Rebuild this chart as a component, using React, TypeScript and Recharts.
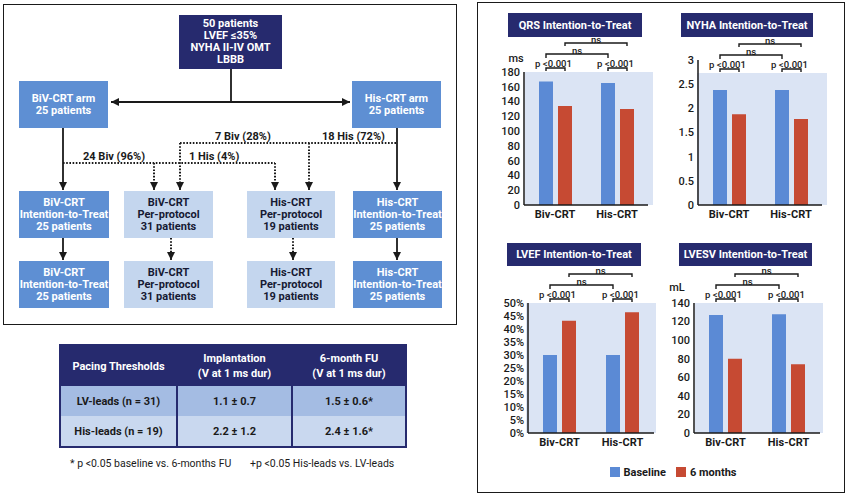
import { BarChart, Bar, XAxis, YAxis, Legend } from 'recharts'

const groups = ['Biv-CRT', 'His-CRT']

const qrsBaseline = [167, 165]
const qrsSixMonths = [134, 130]
const qrsTicks = [0, 20, 40, 60, 80, 100, 120, 140, 160, 180]

const nyhaBaseline = [2.38, 2.38]
const nyhaSixMonths = [1.88, 1.78]
const nyhaTicks = [0, 0.5, 1, 1.5, 2, 2.5, 3]

const lvefBaseline = [30, 30]
const lvefSixMonths = [43.2, 46.4]
const lvefTicks = [0, 5, 10, 15, 20, 25, 30, 35, 40, 45, 50]

const lvesvBaseline = [127, 128]
const lvesvSixMonths = [80, 74]
const lvesvTicks = [0, 20, 40, 60, 80, 100, 120, 140]

const tableHeader = ['Pacing Thresholds', 'Implantation\n(V at 1 ms dur)', '6-month FU\n(V at 1 ms dur)']
const tableLeads = ['LV-leads (n = 31)', 'His-leads (n = 19)']
const tableImplant = ['1.1 ± 0.7', '2.2 ± 1.2']
const tableFollowUp = ['1.5 ± 0.6*', '2.4 ± 1.6*']

const NAVY = '#262a6e'
const MID = '#5e8fd3'
const LIGHT = '#c4d6ee'
const BASE = '#5b8ad5'
const SIX = '#c64a33'
const BG = '#dbe4f4'
const INK = '#1a1a1a'

const BAR = 14
const GAP = 5
const YW = 40

const toRows = (b: number[], s: number[]) =>
  groups.map((g, i) => ({ group: g, baseline: b[i], sixMonths: s[i] }))

type PanelProps = {
  title: string
  titleBox: [number, number, number, number]
  rows: { group: string; baseline: number; sixMonths: number }[]
  ticks: number[]
  max: number
  fmt?: (v: number) => string
  plotLeft: number
  plotTop: number
  plotW: number
  plotH: number
  bg: { left: number; right: number; top: number }
  unit?: { text: string; x: number; y: number }
  legend?: boolean
}

function Panel(p: PanelProps) {
  const M = { top: 45, right: 10, bottom: p.legend ? 30 : 4, left: 0 }
  const left = p.plotLeft - YW
  const top = p.plotTop - M.top
  const width = YW + p.plotW + M.right
  const height = M.top + p.plotH + 20 + M.bottom
  const b = p.bg.top - top
  const band = p.plotW / 2
  const pair = BAR + GAP
  const ink = { stroke: INK, strokeWidth: 1.4, fill: 'none' }
  const txt = { fontSize: 9.5, fontWeight: 500, fill: INK, textAnchor: 'middle' as const, dominantBaseline: 'central' as const }

  const centerOf = (props: any) => {
    const vb = props.viewBox ?? {}
    const x = Number(vb.x ?? props.x)
    const w = Number(vb.width ?? props.width)
    return x + w / 2
  }

  const baseLabel = (props: any) => {
    const cx = centerOf(props)
    const first = cx < YW + band
    return (
      <g>
        <path d={`M${cx},${b - 1} V${b - 4} H${cx + pair} V${b - 1}`} {...ink} />
        <text x={cx + pair / 2 - 2} y={b - 9} {...txt}>p &lt;0.001</text>
        {first && (
          <g>
            <path d={`M${cx},${b - 14} V${b - 18} H${cx + band} V${b - 14}`} {...ink} />
            <text x={cx + band / 2} y={b - 22} {...txt}>ns</text>
          </g>
        )}
      </g>
    )
  }

  const sixLabel = (props: any) => {
    const cx = centerOf(props)
    const first = cx < YW + band
    if (!first) return <g />
    return (
      <g>
        <path d={`M${cx},${b - 26} V${b - 29} H${cx + band} V${b - 26}`} {...ink} />
        <text x={cx + band / 2} y={b - 33} {...txt}>ns</text>
      </g>
    )
  }

  return (
    <>
      <div
        style={{
          position: 'absolute',
          left: p.bg.left,
          top: p.bg.top,
          width: p.bg.right - p.bg.left,
          height: p.plotTop + p.plotH - p.bg.top,
          background: BG,
        }}
      />
      <div
        style={{
          position: 'absolute',
          left: p.titleBox[0],
          top: p.titleBox[1],
          width: p.titleBox[2],
          height: p.titleBox[3],
          background: NAVY,
          color: '#fff',
          fontWeight: 700,
          fontSize: 11,
          display: 'flex',
          alignItems: 'center',
          justifyContent: 'center',
        }}
      >
        {p.title}
      </div>
      {p.unit && (
        <div
          style={{
            position: 'absolute',
            left: p.unit.x - 10,
            top: p.unit.y - 7,
            width: 20,
            height: 14,
            lineHeight: '14px',
            textAlign: 'center',
            fontSize: 11,
            fontWeight: 500,
          }}
        >
          {p.unit.text}
        </div>
      )}
      <div style={{ position: 'absolute', left, top }}>
        <BarChart width={width} height={height} data={p.rows} margin={M} barGap={GAP}>
          <XAxis
            dataKey="group"
            axisLine={{ stroke: INK, strokeWidth: 1.5 }}
            tickLine={false}
            tickSize={0}
            tickMargin={5}
            height={20}
            tick={{ fontSize: 11, fontWeight: 700, fill: INK }}
          />
          <YAxis
            type="number"
            domain={[0, p.max]}
            ticks={p.ticks}
            interval={0}
            width={YW}
            axisLine={{ stroke: INK, strokeWidth: 1.5 }}
            tickLine={false}
            tickSize={0}
            tickMargin={4}
            tick={{ fontSize: 11, fontWeight: 500, fill: INK }}
            tickFormatter={p.fmt}
          />
          {p.legend && (
            <Legend
              layout="horizontal"
              align="center"
              verticalAlign="middle"
              iconType="square"
              iconSize={10}
              itemSorter="dataKey"
              wrapperStyle={{ left: 598 - left, top: 461 - top, width: 160, whiteSpace: 'nowrap' }}
              formatter={(v: string) => (
                <span style={{ color: INK, fontWeight: 700, fontSize: 11 }}>{v}</span>
              )}
            />
          )}
          <Bar dataKey="baseline" name="Baseline" fill={BASE} barSize={BAR} isAnimationActive={false} label={baseLabel} />
          <Bar dataKey="sixMonths" name="6 months" fill={SIX} barSize={BAR} isAnimationActive={false} label={sixLabel} />
        </BarChart>
      </div>
    </>
  )
}

type Box = { x: number; y: number; w: number; h: number; lines: string[]; kind: 'navy' | 'mid' | 'light' }

const boxes: Box[] = [
  { x: 179, y: 15, w: 103, h: 54, lines: ['50 patients', 'LVEF ≤35%', 'NYHA II-IV OMT', 'LBBB'], kind: 'navy' },
  { x: 19, y: 81, w: 89, h: 47, lines: ['BiV-CRT arm', '25 patients'], kind: 'mid' },
  { x: 352, y: 81, w: 89, h: 47, lines: ['His-CRT arm', '25 patients'], kind: 'mid' },
  { x: 19, y: 191, w: 90, h: 47, lines: ['BiV-CRT', 'Intention-to-Treat', '25 patients'], kind: 'mid' },
  { x: 124, y: 191, w: 89, h: 47, lines: ['BiV-CRT', 'Per-protocol', '31 patients'], kind: 'light' },
  { x: 247, y: 191, w: 88, h: 47, lines: ['His-CRT', 'Per-protocol', '19 patients'], kind: 'light' },
  { x: 353, y: 191, w: 89, h: 47, lines: ['His-CRT', 'Intention-to-Treat', '25 patients'], kind: 'mid' },
  { x: 19, y: 261, w: 90, h: 47, lines: ['BiV-CRT', 'Intention-to-Treat', '25 patients'], kind: 'mid' },
  { x: 124, y: 261, w: 89, h: 47, lines: ['BiV-CRT', 'Per-protocol', '31 patients'], kind: 'light' },
  { x: 247, y: 261, w: 88, h: 47, lines: ['His-CRT', 'Per-protocol', '19 patients'], kind: 'light' },
  { x: 353, y: 261, w: 89, h: 47, lines: ['His-CRT', 'Intention-to-Treat', '25 patients'], kind: 'mid' },
]

const flowLabels = [
  { x: 83, y: 156, text: '24 Biv (96%)' },
  { x: 189, y: 156, text: '1 His (4%)' },
  { x: 215, y: 136, text: '7 Biv (28%)' },
  { x: 322, y: 136, text: '18 His (72%)' },
]

function Flow() {
  const solid = { stroke: INK, strokeWidth: 1.8, fill: 'none' }
  const dot = { stroke: INK, strokeWidth: 2, fill: 'none', strokeDasharray: '1.6 1.6' }
  return (
    <>
      <div style={{ position: 'absolute', left: 3, top: 4, width: 452, height: 319, border: `1.5px solid ${INK}` }} />
      {boxes.map((bx, i) => (
        <div
          key={i}
          style={{
            position: 'absolute',
            left: bx.x,
            top: bx.y,
            width: bx.w,
            height: bx.h,
            background: bx.kind === 'navy' ? NAVY : bx.kind === 'mid' ? MID : LIGHT,
            color: bx.kind === 'light' ? '#161a33' : '#fff',
            fontWeight: 700,
            fontSize: 11,
            lineHeight: '12px',
            display: 'flex',
            flexDirection: 'column',
            alignItems: 'center',
            justifyContent: 'center',
            whiteSpace: 'nowrap',
          }}
        >
          {bx.lines.map((l, j) => (
            <div key={j}>{l}</div>
          ))}
        </div>
      ))}
      <svg width={460} height={330} style={{ position: 'absolute', left: 0, top: 0 }}>
        <defs>
          <marker id="ah" markerUnits="userSpaceOnUse" markerWidth={8} markerHeight={8} refX={8} refY={4} orient="auto">
            <path d="M0,0 L8,4 L0,8 z" fill={INK} />
          </marker>
        </defs>
        <path d="M231,69 V102" {...solid} />
        <path d="M231,102 H111" {...solid} markerEnd="url(#ah)" />
        <path d="M231,102 H350" {...solid} markerEnd="url(#ah)" />
        <path d="M63,128 V190" {...solid} markerEnd="url(#ah)" />
        <path d="M397,128 V190" {...solid} markerEnd="url(#ah)" />
        <path d="M63,163 H275" {...dot} />
        <path d="M154,163 V183" {...dot} />
        <path d="M154,183 V190" {...solid} markerEnd="url(#ah)" />
        <path d="M275,163 V183" {...dot} />
        <path d="M275,183 V190" {...solid} markerEnd="url(#ah)" />
        <path d="M180,143 H397" {...dot} />
        <path d="M180,143 V183" {...dot} />
        <path d="M180,183 V190" {...solid} markerEnd="url(#ah)" />
        <path d="M309,143 V183" {...dot} />
        <path d="M309,183 V190" {...solid} markerEnd="url(#ah)" />
        <path d="M63,238 V260" {...solid} markerEnd="url(#ah)" />
        <path d="M397,238 V260" {...solid} markerEnd="url(#ah)" />
        <path d="M171,238 V253" {...dot} />
        <path d="M171,253 V260" {...solid} markerEnd="url(#ah)" />
        <path d="M293,238 V253" {...dot} />
        <path d="M293,253 V260" {...solid} markerEnd="url(#ah)" />
        {flowLabels.map((f, i) => (
          <text key={i} x={f.x} y={f.y} dominantBaseline="central" fontSize={11} fontWeight={700} fill={INK}>
            {f.text}
          </text>
        ))}
      </svg>
    </>
  )
}

function Table() {
  const cell = (bg: string, color: string) => ({
    background: bg,
    color,
    fontWeight: 700,
    fontSize: 11,
    lineHeight: '15px',
    display: 'flex',
    flexDirection: 'column' as const,
    alignItems: 'center',
    justifyContent: 'center',
    textAlign: 'center' as const,
  })
  const rowBg = ['#a4bce3', '#c9d8ef']
  return (
    <>
      <div
        style={{
          position: 'absolute',
          left: 59,
          top: 344,
          width: 344,
          height: 100,
          padding: 2,
          background: NAVY,
          display: 'grid',
          gridTemplateColumns: '115px 113px 112px',
          gridTemplateRows: '40px 30px 30px',
          columnGap: 2,
        }}
      >
        {tableHeader.map((h, i) => (
          <div key={`h${i}`} style={cell(NAVY, '#fff')}>
            {h.split('\n').map((l, j) => (
              <div key={j}>{l}</div>
            ))}
          </div>
        ))}
        {tableLeads.map((lead, i) => [
          <div key={`a${i}`} style={cell(rowBg[i], INK)}>{lead}</div>,
          <div key={`b${i}`} style={cell(rowBg[i], INK)}>{tableImplant[i]}</div>,
          <div key={`c${i}`} style={cell(rowBg[i], INK)}>{tableFollowUp[i]}</div>,
        ])}
      </div>
      <div style={{ position: 'absolute', left: 70, top: 457, fontSize: 10.5, whiteSpace: 'nowrap', color: INK }}>
        * p &lt;0.05 baseline vs. 6-months FU
      </div>
      <div style={{ position: 'absolute', left: 250, top: 457, fontSize: 10.5, whiteSpace: 'nowrap', color: INK }}>
        +p &lt;0.05 His-leads vs. LV-leads
      </div>
    </>
  )
}

export default function App() {
  return (
    <div
      style={{
        position: 'absolute',
        left: 0,
        top: 0,
        width: 850,
        height: 494,
        background: '#fff',
        overflow: 'hidden',
        fontFamily: 'Roboto, sans-serif',
        color: INK,
      }}
    >
      <Flow />
      <Table />
      <div style={{ position: 'absolute', left: 477, top: 2, width: 366, height: 489, border: `1.5px solid ${INK}` }} />
      <Panel
        title="QRS Intention-to-Treat"
        titleBox={[508, 13, 134, 24]}
        rows={toRows(qrsBaseline, qrsSixMonths)}
        ticks={qrsTicks}
        max={180}
        plotLeft={524}
        plotTop={72}
        plotW={124}
        plotH={133}
        bg={{ left: 525, right: 653, top: 72 }}
        unit={{ text: 'ms', x: 516, y: 59 }}
      />
      <Panel
        title="NYHA Intention-to-Treat"
        titleBox={[681, 13, 132, 24]}
        rows={toRows(nyhaBaseline, nyhaSixMonths)}
        ticks={nyhaTicks}
        max={3}
        plotLeft={698}
        plotTop={60}
        plotW={124}
        plotH={145}
        bg={{ left: 697, right: 827, top: 73 }}
      />
      <Panel
        title="LVEF Intention-to-Treat"
        titleBox={[507, 243, 134, 23]}
        rows={toRows(lvefBaseline, lvefSixMonths)}
        ticks={lvefTicks}
        max={50}
        fmt={(v: number) => `${v}%`}
        plotLeft={528}
        plotTop={303}
        plotW={126}
        plotH={130}
        bg={{ left: 526, right: 656, top: 303 }}
        legend
      />
      <Panel
        title="LVESV Intention-to-Treat"
        titleBox={[679, 243, 133, 23]}
        rows={toRows(lvesvBaseline, lvesvSixMonths)}
        ticks={lvesvTicks}
        max={140}
        plotLeft={694}
        plotTop={303}
        plotW={126}
        plotH={130}
        bg={{ left: 695, right: 823, top: 303 }}
        unit={{ text: 'mL', x: 677, y: 288 }}
      />
    </div>
  )
}
